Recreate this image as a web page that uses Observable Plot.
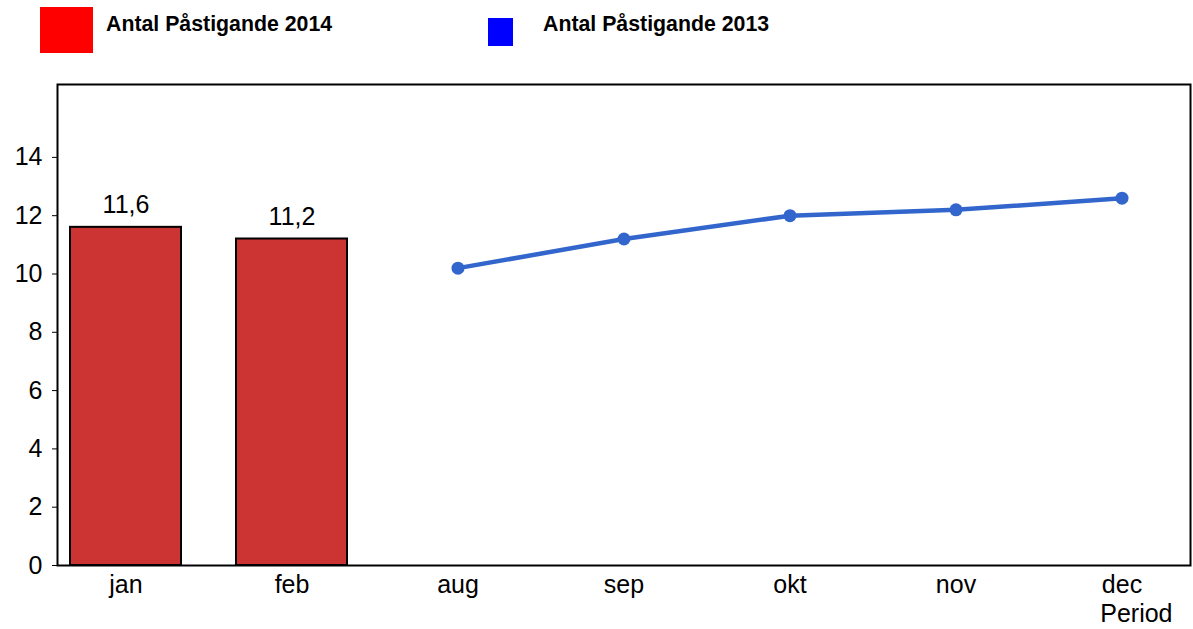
<!DOCTYPE html>
<html>
<head>
<meta charset="utf-8">
<script src="https://cdn.jsdelivr.net/npm/d3@7"></script>
<script src="https://cdn.jsdelivr.net/npm/@observablehq/plot@0.6"></script>
<style>
  html, body { margin: 0; padding: 0; background: #fff; }
  #wrap { position: relative; width: 1193px; height: 629px; font-family: "Liberation Sans", Arial, sans-serif; }
  .legend { position: absolute; top: 0; left: 0; width: 1193px; height: 60px; }
  .sw { position: absolute; }
  .lt { position: absolute; font-weight: bold; font-size: 21.3px; color: #000; white-space: nowrap; line-height: 1; }
  #chart { position: absolute; top: 0; left: 0; }
</style>
</head>
<body>
<div id="wrap">
  <div id="chart"></div>
  <div class="legend" id="legend"></div>
</div>
<script>
const months = ["jan", "feb", "aug", "sep", "okt", "nov", "dec"];
const months2014 = ["jan", "feb"];
const values2014 = [11.6, 11.2];
const months2013 = ["aug", "sep", "okt", "nov", "dec"];
const values2013 = [10.2, 11.2, 12.0, 12.2, 12.6];
const yTicks = [0, 2, 4, 6, 8, 10, 12, 14];
const seriesNames = ["Antal Påstigande 2014", "Antal Påstigande 2013"];
const axisTitle = "Period";

const bars = months2014.map((m, i) => ({month: m, value: values2014[i]}));
const line = months2013.map((m, i) => ({month: m, value: values2013[i]}));
const fmt = v => v.toFixed(1).replace(".", ",");

const chart = Plot.plot({
  width: 1193,
  height: 629,
  marginLeft: 57,
  marginRight: 3,
  marginTop: 84,
  marginBottom: 64,
  style: {fontFamily: "'Liberation Sans', Arial, sans-serif", fontSize: "25px", color: "#000", background: "#fff"},
  x: {domain: months, type: "band", paddingInner: 0.333, paddingOuter: 0.069, label: null, tickSize: 0, tickPadding: 10},
  y: {domain: [0, 16.5], ticks: yTicks, label: null, tickSize: 5, tickPadding: 10},
  marks: [
    Plot.barY(bars, {x: "month", y: "value", fill: "#cc3333", stroke: "#000", strokeWidth: 2}),
    Plot.text(bars, {x: "month", y: "value", text: d => fmt(d.value), dy: -22, fontSize: 25, fill: "#000"}),
    Plot.line(line, {x: "month", y: "value", stroke: "#3366cc", strokeWidth: 4.5}),
    Plot.dot(line, {x: "month", y: "value", fill: "#3366cc", r: 6.5}),
    Plot.frame({stroke: "#000", strokeWidth: 2}),
    Plot.text([axisTitle], {frameAnchor: "bottom-right", lineAnchor: "middle", text: d => d, dx: -18, dy: 48, textAnchor: "end", fontSize: 25, fill: "#000"})
  ]
});
document.getElementById("chart").appendChild(chart);

const legend = document.getElementById("legend");
const items = [
  {name: seriesNames[0], color: "#ff0000", box: [40, 7, 53, 46], text: [106, 14]},
  {name: seriesNames[1], color: "#0000ff", box: [488, 18, 25, 28], text: [543, 14]}
];
for (const it of items) {
  const s = document.createElement("div");
  s.className = "sw";
  s.style.left = it.box[0] + "px"; s.style.top = it.box[1] + "px";
  s.style.width = it.box[2] + "px"; s.style.height = it.box[3] + "px";
  s.style.background = it.color;
  legend.appendChild(s);
  const t = document.createElement("div");
  t.className = "lt";
  t.style.left = it.text[0] + "px"; t.style.top = it.text[1] + "px";
  t.textContent = it.name;
  legend.appendChild(t);
}
</script>
</body>
</html>
